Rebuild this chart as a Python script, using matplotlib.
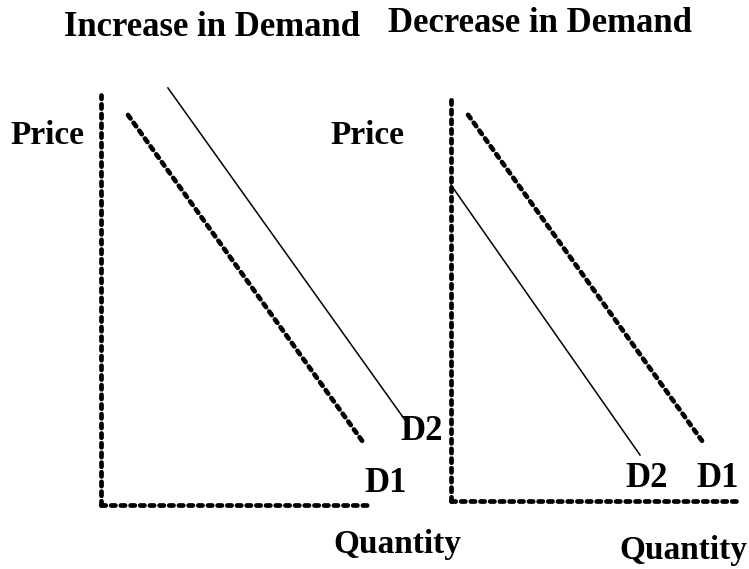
import matplotlib
matplotlib.use("Agg")
import matplotlib.pyplot as plt

# ---- data (quantity / price units) ----
titles = ["Increase in Demand", "Decrease in Demand"]
axis_x_end = [8.9, 9.63]
axis_y_end = [9.53, 9.4]

# Left panel: demand curves
left_d1_q = [0.9, 8.8]
left_d1_p = [9.07, 1.40]
left_d2_q = [2.23, 10.13]
left_d2_p = [9.70, 1.98]

# Right panel: demand curves
right_d1_q = [0.57, 8.47]
right_d1_p = [8.98, 1.30]
right_d2_q = [0.0, 6.3]
right_d2_p = [7.35, 1.07]

curve_labels = ["D1", "D2"]

W, H = 749, 569
fig = plt.figure(figsize=(W / 100, H / 100), dpi=100)

FONT = "Liberation Serif"
thick = dict(color="black", lw=3.4, linestyle=(0, (0.9, 1.15)),
             dash_capstyle="round", solid_capstyle="round")
thin = dict(color="black", lw=1.1)

def make_axes(ox, oy):
    # origin in pixels (from top-left); 30 px per x unit, 43 px per y unit
    w, h = 330, 430
    ax = fig.add_axes([ox / W, (H - oy) / H, w / W, h / H])
    ax.set_xlim(0, 11)
    ax.set_ylim(0, 10)
    ax.axis("off")
    return ax

axL = make_axes(101, 505)
axR = make_axes(451, 501)

for ax, xe, ye in [(axL, axis_x_end[0], axis_y_end[0]), (axR, axis_x_end[1], axis_y_end[1])]:
    ax.plot([0, 0], [0, ye], clip_on=False, **thick)
    ax.plot([0, xe], [0, 0], clip_on=False, **thick)

# Left panel
axL.plot(left_d1_q, left_d1_p, clip_on=False, **thick)
axL.plot(left_d2_q, left_d2_p, clip_on=False, **thin)
tk = dict(fontfamily=FONT, fontweight="bold", ha="center", va="center", clip_on=False)
axL.text(10.7, 1.70, curve_labels[1], fontsize=25, **tk)
axL.text(9.5, 0.51, curve_labels[0], fontsize=25, **tk)
axL.text(9.87, -0.93, "Quantity", fontsize=24, **tk)
axL.text(-1.8, 8.6, "Price", fontsize=24, **tk)
axL.text(3.7, 11.1, titles[0], fontsize=25, **tk)

# Right panel
axR.plot(right_d1_q, right_d1_p, clip_on=False, **thick)
axR.plot(right_d2_q, right_d2_p, clip_on=False, **thin)
axR.text(6.53, 0.53, curve_labels[1], fontsize=25, **tk)
axR.text(8.9, 0.53, curve_labels[0], fontsize=25, **tk)
axR.text(7.75, -1.14, "Quantity", fontsize=24, **tk)
axR.text(-2.77, 8.51, "Price", fontsize=24, **tk)
axR.text(2.97, 11.1, titles[1], fontsize=25, **tk)

fig.savefig("out.png", dpi=100)
